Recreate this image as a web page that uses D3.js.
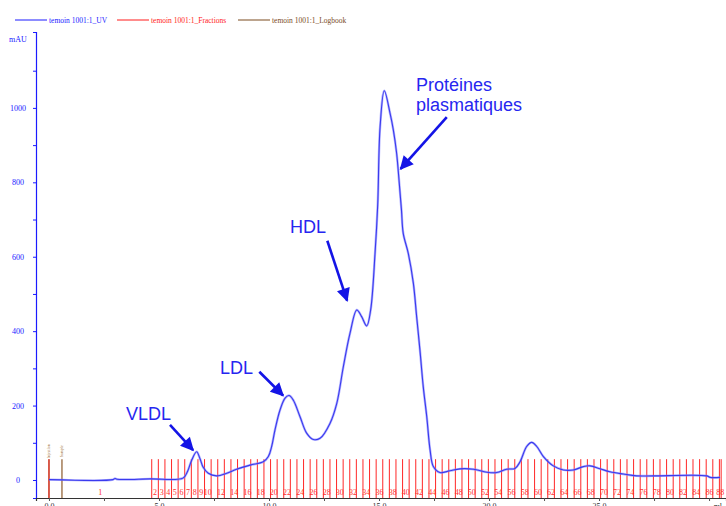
<!DOCTYPE html>
<html><head><meta charset="utf-8">
<script src="https://cdn.jsdelivr.net/npm/d3@7"></script>
<style>
html,body{margin:0;padding:0;background:#fff;}
svg{display:block;}
</style></head>
<body>
<svg id="chart" width="726" height="506"></svg>
<script>
// ---- data ----
const uvVolume = [0,2.91,3.0,3.09,4.59,6.09,6.29,6.49,6.71,6.86,7.01,7.24,7.62,8.08,8.53,9.14,9.74,9.97,10.12,10.27,10.5,10.73,10.91,11.10,11.41,11.71,12.01,12.32,12.77,13.08,13.38,13.68,13.99,14.21,14.44,14.62,14.82,14.94,15.05,15.24,15.5,15.65,15.80,15.92,16.02,16.10,16.33,16.56,16.71,16.86,17.01,17.17,17.32,17.47,17.77,18.23,18.68,19.29,19.90,20.35,20.80,21.18,21.41,21.71,21.94,22.17,22.47,22.92,23.38,23.83,24.29,24.59,25.05,25.5,26.1,26.71,27.47,29.9,30.05,30.5];
const uvMAU    = [1,1,4,2,3,5,22,54,76,58,34,18,11,18,29,40,49,63,90,134,188,220,227,215,170,126,109,112,152,206,305,394,457,439,414,457,610,739,950,1046,986,941,878,798,726,663,609,529,439,349,251,170,81,36,20,25,30,29,21,20,29,31,49,90,101,90,63,38,27,27,36,38,30,22,16,11,11,11,7,7];

const fractionStarts = [0,4.67,4.97,5.27,5.57,5.87,6.17,6.47,6.77,7.07,7.37,7.67,7.97,8.27,8.57,8.87,9.17,9.47,9.77,10.07,10.37,10.67,10.97,11.27,11.57,11.87,12.17,12.47,12.77,13.07,13.37,13.67,13.97,14.27,14.57,14.87,15.17,15.47,15.77,16.07,16.37,16.67,16.97,17.27,17.57,17.87,18.17,18.47,18.77,19.07,19.37,19.67,19.97,20.27,20.57,20.87,21.17,21.47,21.77,22.07,22.37,22.67,22.97,23.27,23.57,23.87,24.17,24.47,24.77,25.07,25.37,25.67,25.97,26.27,26.57,26.87,27.17,27.47,27.77,28.07,28.37,28.67,28.97,29.27,29.57,29.87,30.17,30.47];
const fractionEnd = 30.55;
const fractionLabels = ["1","2","3","4","5","6","7","8","9","10","","12","","14","","16","","18","","20","","22","","24","","26","","28","","30","","32","","34","","36","","38","","40","","42","","44","","46","","48","","50","","52","","54","","56","","58","","60","","62","","64","","66","","68","","70","","72","","74","","76","","78","","80","","82","","84","","86","","88"];

const logbookVolumes = [0, 0.59];
const logbookTexts = ["Injection", "Sample"];

const yTicks = [0,100,200,300,400,500,600,700,800,900,1000,1100];
const yLabels = [0,200,400,600,800,1000];
const xTicks = [0,2.5,5,7.5,10,12.5,15,17.5,20,22.5,25,27.5,30];
const xLabels = [0,5,10,15,20,25];

const legendNames = ["temoin 1001:1_UV","temoin 1001:1_Fractions","temoin 1001:1_Logbook"];
const legendColors = ["#1a1aff","#ff1a1a","#7a4a1e"];

const annotations = [
  {lines:["VLDL"], tx:3.5, ty:161, ax1:5.5, ay1:148, ax2:6.55, ay2:80},
  {lines:["LDL"], tx:7.77, ty:285, ax1:9.56, ay1:291, ax2:10.64, ay2:227},
  {lines:["HDL"], tx:10.95, ty:664, ax1:12.65, ay1:643, ax2:13.55, ay2:482},
  {lines:["Protéines","plasmatiques"], tx:16.68, ty:1045, ax1:18.08, ay1:975, ax2:15.98, ay2:836}
];

// ---- scales ----
const svg = d3.select("#chart");
const x = d3.scaleLinear().domain([-0.59, 30.77]).range([36, 726]);
const y = d3.scaleLinear().domain([-48.4, 1204]).range([498, 32]);
const serif = "'Liberation Serif','Times New Roman',serif";
const sans = "'Liberation Sans',Arial,sans-serif";

// ---- legend ----
const leg = svg.append("g");
const legX = [15,117,238];
legendNames.forEach((n,i)=>{
  leg.append("line").attr("x1",legX[i]).attr("x2",legX[i]+32).attr("y1",20).attr("y2",20)
    .attr("stroke",legendColors[i]).attr("stroke-width",1);
  leg.append("text").attr("x",legX[i]+34).attr("y",23).text(n)
    .attr("font-family",serif).attr("font-size",7.5).attr("fill",legendColors[i]);
});

// ---- y axis ----
const yAxis = d3.axisLeft(y).tickValues(yTicks).tickSize(3).tickFormat(d=> yLabels.includes(d)? d : "");
const gy = svg.append("g").attr("transform","translate(36,0)").call(yAxis);
gy.select(".domain").attr("stroke","#1a1aff").attr("stroke-width",1.2);
gy.selectAll(".tick line").attr("stroke","#1a1aff");
gy.selectAll(".tick text").attr("fill","#2020ff").attr("font-family",serif).attr("font-size",8)
  .attr("text-anchor","middle").attr("x",-18);
svg.append("text").attr("x",9).attr("y",42).text("mAU").attr("font-family",serif)
  .attr("font-size",8).attr("fill","#2020ff");

// ---- x axis ----
const xAxis = d3.axisBottom(x).tickValues(xTicks).tickSize(3).tickPadding(2)
  .tickFormat(d=> xLabels.includes(d)? d.toFixed(1) : "");
const gx = svg.append("g").attr("transform","translate(0,498)").call(xAxis);
gx.select(".domain").attr("stroke","#333").attr("stroke-width",1.2);
gx.selectAll(".tick line").attr("stroke","#555");
gx.selectAll(".tick text").attr("fill","#333").attr("font-family",serif).attr("font-size",8);
svg.append("text").attr("x",x(30.4)).attr("y",509).attr("text-anchor","middle").text("ml")
  .attr("font-family",serif).attr("font-size",8).attr("fill","#333");

// ---- logbook ----
const lb = svg.append("g");
logbookVolumes.forEach((v,i)=>{
  lb.append("line").attr("x1",x(v)).attr("x2",x(v)).attr("y1",y(56)).attr("y2",y(-48.4))
    .attr("stroke","#8b5a2b").attr("stroke-width",1.2);
  lb.append("text").attr("transform",`translate(${x(v)+1.5},${y(77)}) rotate(-90)`)
    .attr("text-anchor","middle").text(logbookTexts[i])
    .attr("font-family",serif).attr("font-size",4).attr("fill","#9a6a30");
});

// ---- fractions ----
const fr = svg.append("g");
fractionStarts.concat([fractionEnd]).forEach(v=>{
  fr.append("line").attr("x1",x(v)).attr("x2",x(v)).attr("y1",y(56)).attr("y2",y(-48.4))
    .attr("stroke","#ff1010").attr("stroke-opacity",0.9).attr("stroke-width",1);
});
fractionStarts.forEach((v,i)=>{
  const end = i+1<fractionStarts.length ? fractionStarts[i+1] : fractionEnd;
  if(!fractionLabels[i]) return;
  fr.append("text").attr("x",x((v+end)/2)).attr("y",495).attr("text-anchor","middle")
    .text(fractionLabels[i]).attr("font-family",serif).attr("font-size",8).attr("fill","#ff3030");
});

// ---- UV curve ----
const line = d3.line().x((d,i)=>x(uvVolume[i])).y(d=>y(d)).curve(d3.curveCatmullRom.alpha(0.5));
svg.append("path").datum(uvMAU).attr("d",line).attr("fill","none")
  .attr("stroke","#8080ff").attr("stroke-width",2.4).attr("stroke-opacity",0.6);
svg.append("path").datum(uvMAU).attr("d",line).attr("fill","none")
  .attr("stroke","#3a3aee").attr("stroke-width",1.1);

// ---- annotations ----
const defs = svg.append("defs");
defs.append("marker").attr("id","ah").attr("viewBox","0 0 10 10").attr("refX",9).attr("refY",5)
  .attr("markerWidth",5.6).attr("markerHeight",5.2).attr("markerUnits","strokeWidth").attr("orient","auto")
  .append("path").attr("d","M0,0 L10,5 L0,10 Z").attr("fill","#1414e6");
const an = svg.append("g");
annotations.forEach(a=>{
  a.lines.forEach((t,j)=>{
    an.append("text").attr("x",x(a.tx)).attr("y",y(a.ty)+j*20).text(t)
      .attr("font-family",sans).attr("font-size",18).attr("fill","#2626f0");
  });
  an.append("line").attr("x1",x(a.ax1)).attr("y1",y(a.ay1)).attr("x2",x(a.ax2)).attr("y2",y(a.ay2))
    .attr("stroke","#1414e6").attr("stroke-width",2.6).attr("marker-end","url(#ah)");
});
</script>
</body></html>
